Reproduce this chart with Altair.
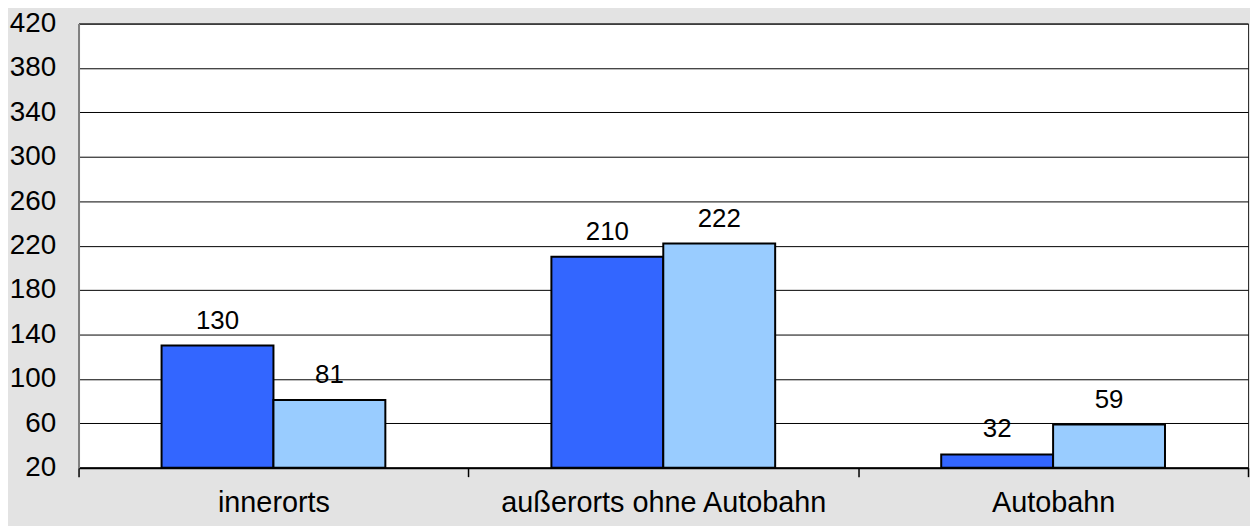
import altair as alt
import pandas as pd

categories = ["innerorts", "außerorts ohne Autobahn", "Autobahn"]
series = ["A", "B"]
values_a = [130, 210, 32]
values_b = [81, 222, 59]
y_ticks = [20, 60, 100, 140, 180, 220, 260, 300, 340, 380, 420]
colors = ["#3366FF", "#99CCFF"]

rows = []
for c, a, b in zip(categories, values_a, values_b):
    rows.append({"cat": c, "series": series[0], "value": a})
    rows.append({"cat": c, "series": series[1], "value": b})
df = pd.DataFrame(rows)

FONT = "Liberation Sans"

x = alt.X("cat:N", sort=categories, title=None,
          scale=alt.Scale(paddingInner=0, paddingOuter=0),
          axis=alt.Axis(labelAngle=0, labelFontSize=29, labelColor="black",
                        labelFont=FONT, tickBand="extent", tickSize=9,
                        tickColor="black", tickWidth=1.5, domainColor="black",
                        domainWidth=2, labelPadding=12, labelLimit=1000,
                        grid=False))
xo = alt.XOffset("series:N", sort=series,
                 scale=alt.Scale(paddingInner=0, paddingOuter=0.742))
y = alt.Y("value:Q", title=None,
          scale=alt.Scale(domain=[20, 420], nice=False, zero=False, clamp=True),
          axis=alt.Axis(values=y_ticks, labelFontSize=28, labelColor="black",
                        labelFont=FONT, ticks=False, labelPadding=23,
                        domainColor="#808080", domainWidth=2,
                        grid=True, gridColor="black", gridWidth=1))

base = alt.Chart(df).encode(x=x, xOffset=xo, y=y)

bars = base.mark_bar(stroke="black", strokeWidth=2).encode(
    color=alt.Color("series:N", sort=series,
                    scale=alt.Scale(domain=series, range=colors), legend=None)
)

labels = base.mark_text(baseline="alphabetic", dy=-17, fontSize=26,
                        font=FONT, color="black").encode(text="value:Q")

chart = (bars + labels).properties(
    width=1177, height=447,
    autosize=alt.AutoSizeParams(type="none"),
    padding={"left": 71, "top": 14, "right": 2, "bottom": 57},
    background="#e3e3e3",
).configure_view(fill="white", stroke="#303030", strokeWidth=1)

chart.save("out.html", embed_options={"renderer": "svg", "actions": False})
